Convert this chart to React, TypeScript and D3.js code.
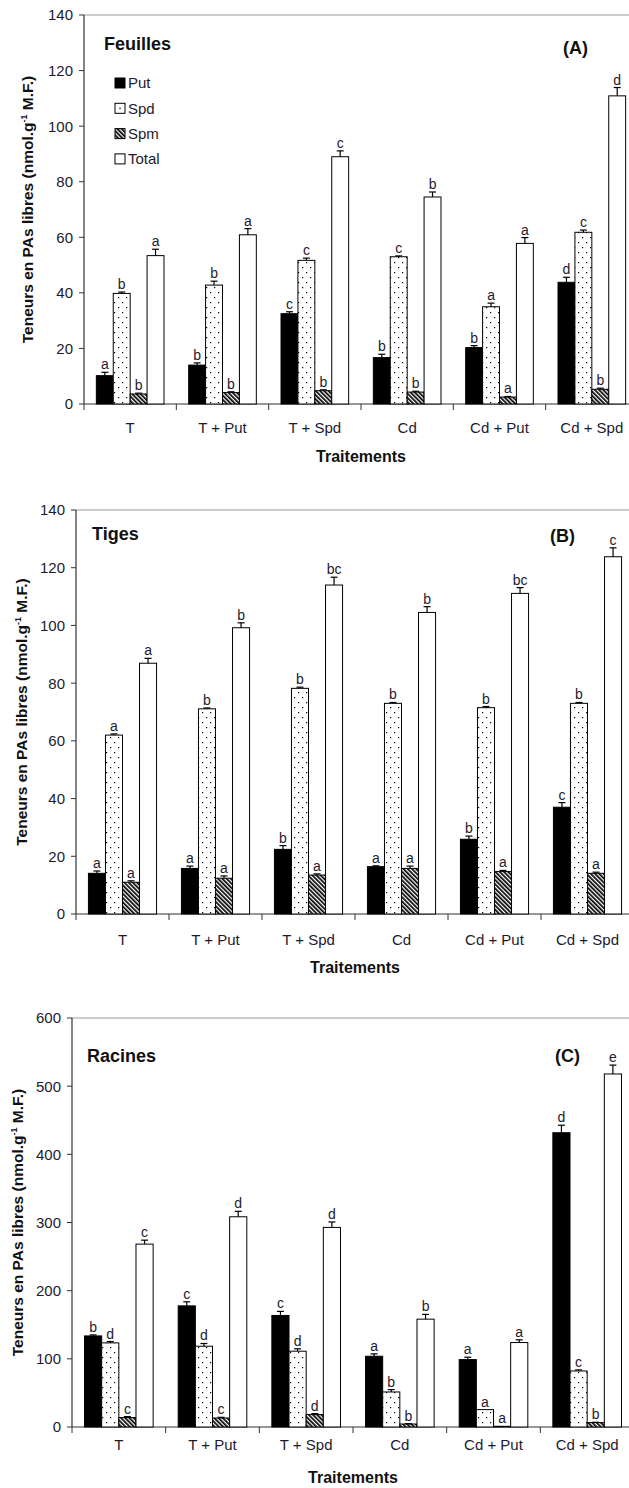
import React from 'react';
import * as d3 from 'd3';

const FONT = "Arial, 'Liberation Sans', Helvetica, sans-serif";
const INK = '#1e1a2e';

const treatments = ['T', 'T + Put', 'T + Spd', 'Cd', 'Cd + Put', 'Cd + Spd'];
const seriesNames = ['Put', 'Spd', 'Spm', 'Total'];

// Feuilles (A)  -- rows: Put, Spd, Spm, Total
const feuillesValues = [
  [10.2, 14.0, 32.5, 16.7, 20.3, 43.8],
  [39.8, 42.8, 51.7, 53.0, 35.0, 61.8],
  [3.6, 4.1, 4.8, 4.3, 2.5, 5.3],
  [53.4, 60.9, 89.0, 74.5, 57.8, 110.9]
];
const feuillesErrors = [
  [1.2, 0.8, 0.7, 1.2, 0.7, 1.8],
  [0.5, 1.4, 0.8, 0.3, 1.3, 0.8],
  [0.3, 0.3, 0.3, 0.3, 0.2, 0.4],
  [2.3, 2.2, 2.1, 1.8, 2.1, 3.0]
];
const feuillesLetters = [
  ['a', 'b', 'c', 'b', 'b', 'd'],
  ['b', 'b', 'c', 'c', 'a', 'c'],
  ['b', 'b', 'b', 'b', 'a', 'b'],
  ['a', 'a', 'c', 'b', 'a', 'd']
];

// Tiges (B)
const tigesValues = [
  [14.1, 15.8, 22.4, 16.4, 25.9, 37.0],
  [62.0, 71.1, 78.2, 73.0, 71.5, 73.0],
  [11.0, 12.4, 13.5, 15.8, 14.7, 14.1],
  [86.9, 99.2, 114.0, 104.5, 111.1, 123.8]
];
const tigesErrors = [
  [0.8, 0.8, 1.3, 0.3, 1.1, 1.6],
  [0.4, 0.3, 0.4, 0.3, 0.4, 0.3],
  [0.5, 0.8, 0.4, 0.8, 0.4, 0.4],
  [1.7, 1.7, 2.7, 2.0, 2.0, 3.1]
];
const tigesLetters = [
  ['a', 'a', 'b', 'a', 'b', 'c'],
  ['a', 'b', 'b', 'b', 'b', 'b'],
  ['a', 'a', 'a', 'a', 'a', 'a'],
  ['a', 'b', 'bc', 'b', 'bc', 'c']
];

// Racines (C)
const racinesValues = [
  [133.6, 177.7, 163.6, 103.8, 98.9, 431.7],
  [123.4, 118.5, 111.2, 51.4, 25.5, 82.2],
  [13.8, 13.2, 18.2, 4.4, 1.0, 6.4],
  [268.3, 308.4, 292.8, 158.2, 123.9, 517.9]
];
const racinesErrors = [
  [1.5, 6, 6, 3.5, 3.5, 11],
  [2, 4, 3.5, 3.5, 0, 1.5],
  [1.5, 1, 1.5, 0.5, 0, 0.5],
  [5.8, 8, 8, 7, 4, 13]
];
const racinesLetters = [
  ['b', 'c', 'c', 'a', 'a', 'd'],
  ['d', 'd', 'd', 'b', 'a', 'c'],
  ['c', 'c', 'd', 'b', 'a', 'b'],
  ['c', 'd', 'd', 'b', 'a', 'e']
];

const fills = ['#000', 'url(#dots)', 'url(#hatch)', '#fff'];

const panels = [
  {
    title: 'Feuilles', tag: '(A)', values: feuillesValues, errors: feuillesErrors, letters: feuillesLetters,
    left: 84, right: 638, top: 15, zero: 404, yMax: 140, step: 20, yLabelX: 28,
    tickBase: 433, xTitleBase: 462, titleX: 104, titleBase: 50, tagX: 563, tagBase: 54, legend: true
  },
  {
    title: 'Tiges', tag: '(B)', values: tigesValues, errors: tigesErrors, letters: tigesLetters,
    left: 76, right: 634, top: 510, zero: 914, yMax: 140, step: 20, yLabelX: 22,
    tickBase: 945, xTitleBase: 973, titleX: 92, titleBase: 540, tagX: 550, tagBase: 542, legend: false
  },
  {
    title: 'Racines', tag: '(C)', values: racinesValues, errors: racinesErrors, letters: racinesLetters,
    left: 72, right: 634, top: 1018, zero: 1427, yMax: 600, step: 100, yLabelX: 18,
    tickBase: 1450, xTitleBase: 1483, titleX: 87, titleBase: 1062, tagX: 555, tagBase: 1062, legend: false
  }
];

function Panel({ p }) {
  const x0 = d3.scaleBand().domain(treatments).range([p.left, p.right]);
  const x1 = d3.scaleBand().domain(seriesNames).range([0, x0.bandwidth()]).paddingInner(0).paddingOuter(0.73);
  const y = d3.scaleLinear().domain([0, p.yMax]).range([p.zero, p.top]);
  const ticks = d3.range(0, p.yMax + 1, p.step);
  const bounds = treatments.map((t) => x0(t)).concat([p.right]);
  const bw = x1.bandwidth();
  const midY = (p.top + p.zero) / 2;

  return (
    <g fontFamily={FONT}>
      {/* cadre */}
      <line x1={p.left} x2={p.right} y1={p.top} y2={p.top} stroke="#9a9a9a" strokeWidth={1} />
      <line x1={p.left} x2={p.left} y1={p.top} y2={p.zero} stroke="#333" strokeWidth={1.2} />
      <line x1={p.left} x2={p.right} y1={p.zero} y2={p.zero} stroke="#333" strokeWidth={1.2} />
      {ticks.map((t) => (
        <g key={t}>
          <line x1={p.left - 5} x2={p.left} y1={y(t)} y2={y(t)} stroke="#333" />
          <text x={p.left - 11} y={y(t)} dy="0.36em" textAnchor="end" fontSize={15} fill={INK}>{t}</text>
        </g>
      ))}
      {bounds.map((b, i) => (
        <line key={i} x1={b} x2={b} y1={p.zero} y2={p.zero + 6} stroke="#333" />
      ))}
      {treatments.map((t) => (
        <text key={t} x={x0(t) + x0.bandwidth() / 2} y={p.tickBase} textAnchor="middle" fontSize={15} fill={INK}>{t}</text>
      ))}
      <text x={(p.left + p.right) / 2} y={p.xTitleBase} textAnchor="middle" fontSize={16} fontWeight="bold" fill="#111">Traitements</text>
      <text transform={`translate(${p.yLabelX},${midY}) rotate(-90)`} textAnchor="middle" dy="0.35em" fontSize={15.5} fontWeight="bold" fill="#111">
        <tspan>Teneurs en PAs libres (nmol.g</tspan>
        <tspan dy={-6} fontSize={9}>-1</tspan>
        <tspan dy={6}> M.F.)</tspan>
      </text>

      {/* barres */}
      {seriesNames.map((s, si) => (
        <g key={s}>
          {treatments.map((t, ti) => {
            const v = p.values[si][ti];
            const e = p.errors[si][ti];
            const bx = x0(t) + x1(s);
            const cx = bx + bw / 2;
            const top = y(v + e);
            return (
              <g key={t}>
                <rect x={bx} y={y(v)} width={bw} height={p.zero - y(v)} fill={fills[si]} stroke="#000" strokeWidth={1} />
                {e > 0 && (
                  <g stroke="#000" strokeWidth={1.2}>
                    <line x1={cx} x2={cx} y1={y(v)} y2={top} />
                    <line x1={cx - 3.5} x2={cx + 3.5} y1={top} y2={top} />
                  </g>
                )}
                <text x={cx} y={top - 3} textAnchor="middle" fontSize={14} fill={INK}>{p.letters[si][ti]}</text>
              </g>
            );
          })}
        </g>
      ))}

      <text x={p.titleX} y={p.titleBase} fontSize={18} fontWeight="bold" fill="#111">{p.title}</text>
      <text x={p.tagX} y={p.tagBase} fontSize={18} fontWeight="bold" fill="#111">{p.tag}</text>

      {p.legend && (
        <g>
          {seriesNames.map((s, i) => {
            const cy = 83 + i * 25.3;
            return (
              <g key={s}>
                <rect x={115} y={cy - 5} width={10} height={10} fill={i === 1 ? '#fff' : fills[i]} stroke="#000" strokeWidth={1} />
                {i === 1 && <rect x={119.4} y={cy - 0.6} width={1.3} height={1.3} fill="#000" />}
                <text x={128} y={cy} dy="0.36em" fontSize={15} fill={INK}>{s}</text>
              </g>
            );
          })}
        </g>
      )}
    </g>
  );
}

export default function App() {
  return (
    <svg width={629} height={1488} style={{ position: 'absolute', left: 0, top: 0, background: '#fff' }}>
      <defs>
        <pattern id="dots" width={8} height={10} patternUnits="userSpaceOnUse">
          <rect width={8} height={10} fill="#fff" />
          <rect x={2} y={2} width={1.2} height={1.2} fill="#000" />
          <rect x={6} y={7} width={1.2} height={1.2} fill="#000" />
        </pattern>
        <pattern id="hatch" width={3} height={3} patternUnits="userSpaceOnUse" patternTransform="rotate(-45)">
          <rect width={3} height={3} fill="#fff" />
          <rect width={1.7} height={3} fill="#000" />
        </pattern>
      </defs>
      <rect width={629} height={1488} fill="#fff" />
      {panels.map((p) => (
        <Panel key={p.title} p={p} />
      ))}
    </svg>
  );
}
